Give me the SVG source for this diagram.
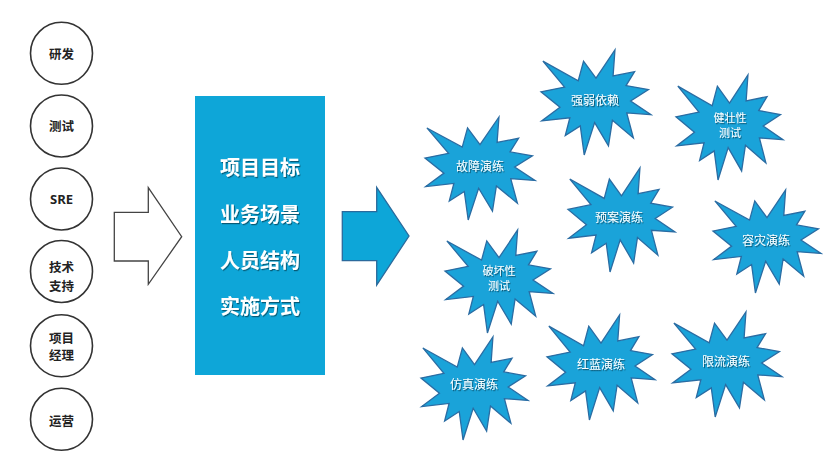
<svg xmlns="http://www.w3.org/2000/svg" xmlns:xlink="http://www.w3.org/1999/xlink" width="839" height="474" viewBox="0 0 839 474">
  <style>
    .role { fill: #ffffff; stroke: #333333; stroke-width: 1.6; }
    .roletxt { font-family: "Noto Sans CJK SC", "Liberation Sans", sans-serif; font-size: 12.5px; font-weight: bold; fill: #222222; text-anchor: middle; }
    .boxtxt { font-family: "Noto Sans CJK SC", "Liberation Sans", sans-serif; font-size: 20px; font-weight: bold; fill: #ffffff; text-anchor: middle; }
    .startxt { font-family: "Noto Sans CJK SC", "Liberation Sans", sans-serif; font-size: 12px; fill: #ffffff; text-anchor: middle; }
    .startxt2 { font-family: "Noto Sans CJK SC", "Liberation Sans", sans-serif; font-size: 11px; fill: #ffffff; text-anchor: middle; }
    .star { fill: #1AA3D9; stroke: #2A6CA3; stroke-width: 1.3; }
  </style>
  <defs>
    <filter id="shadow" x="-20%" y="-20%" width="140%" height="160%">
      <feDropShadow dx="1" dy="1.2" stdDeviation="0.6" flood-color="#000000" flood-opacity="0.45"/>
    </filter>
    <path id="seal" vector-effect="non-scaling-stroke" d="M50,26.85 L67.23,0 L65.53,24.65 L85.09,20.63 L77.32,33.87 L97.67,37.67 L81.51,48.5 L100,61.53 L77.95,59.92 L84,83.77 L64.91,66.93 L61.33,91.37 L48.76,69.14 L39.28,100 L35.72,72.35 L22.05,81.56 L26.24,64.52 L0.63,67.53 L17.23,54.51 L0,39.88 L21.42,35.26 L1.71,10.63 L33.85,29.26 L38.67,10.63 Z"/>
  </defs>
  <rect width="839" height="474" fill="#ffffff"/>

  <g id="connectors">
    <path id="arrow-in" d="M114.3,212.3 L148.3,212.3 L148.3,187.7 L181.7,236.7 L148.3,284.3 L148.3,261 L114.3,261 Z" fill="#ffffff" stroke="#444444" stroke-width="1.3" stroke-linejoin="miter"/>
    <path id="arrow-out" d="M342.3,211.7 L376.7,211.7 L376.7,187.3 L409,236 L376.7,285 L376.7,260.7 L342.3,260.7 Z" fill="#0DA6D8" stroke="#2B6A9C" stroke-width="1.3"/>
  </g>

  <g id="role-yanfa"><circle class="role" cx="61.5" cy="53.3" r="31"/><text class="roletxt" x="61.5" y="58.8">研发</text></g>
  <g id="role-ceshi"><circle class="role" cx="61.5" cy="126" r="31"/><text class="roletxt" x="61.5" y="131">测试</text></g>
  <g id="role-sre"><circle class="role" cx="61.5" cy="199" r="31"/><text class="roletxt" x="61.5" y="203.5" style="font-family:'Open Sans','Liberation Sans',sans-serif;font-size:13px">SRE</text></g>
  <g id="role-jishu"><circle class="role" cx="61.5" cy="271.5" r="31"/><text class="roletxt" x="61.5" y="272">技术</text><text class="roletxt" x="61.5" y="290.5">支持</text></g>
  <g id="role-xiangmu"><circle class="role" cx="61.5" cy="345.8" r="31"/><text class="roletxt" x="61.5" y="342.7">项目</text><text class="roletxt" x="61.5" y="360.4">经理</text></g>
  <g id="role-yunying"><circle class="role" cx="61.5" cy="419.3" r="31"/><text class="roletxt" x="61.5" y="426">运营</text></g>

  <g id="center-box">
    <rect x="195" y="96" width="130" height="279" fill="#0EA6D8"/>
    <g filter="url(#shadow)">
      <text class="boxtxt" x="260" y="174.5">项目目标</text>
      <text class="boxtxt" x="260" y="221.5">业务场景</text>
      <text class="boxtxt" x="260" y="268">人员结构</text>
      <text class="boxtxt" x="260" y="314">实施方式</text>
    </g>
  </g>

  <g id="star-guzhang"><use xlink:href="#seal" class="star" transform="translate(425,117) scale(1.10,1.03)"/><text class="startxt" filter="url(#shadow)" x="480" y="170.5">故障演练</text></g>
  <g id="star-qiangruo"><use xlink:href="#seal" class="star" transform="translate(541,50) scale(1.10,1.05)"/><text class="startxt" filter="url(#shadow)" x="595" y="104.5">强弱依赖</text></g>
  <g id="star-yuan"><use xlink:href="#seal" class="star" transform="translate(568,168) scale(1.07,1.04)"/><text class="startxt" filter="url(#shadow)" x="619" y="221.5">预案演练</text></g>
  <g id="star-jianzhuang"><use xlink:href="#seal" class="star" transform="translate(676,75) scale(1.07,1.05)"/><text class="startxt2" filter="url(#shadow)" x="730" y="121.5">健壮性</text><text class="startxt2" filter="url(#shadow)" x="730" y="136.5">测试</text></g>
  <g id="star-rongzai"><use xlink:href="#seal" class="star" transform="translate(713,190) scale(1.08,1.03)"/><text class="startxt" filter="url(#shadow)" x="766" y="244.5">容灾演练</text></g>
  <g id="star-pohuai"><use xlink:href="#seal" class="star" transform="translate(445,230) scale(1.08,1.03)"/><text class="startxt2" filter="url(#shadow)" x="499" y="275">破坏性</text><text class="startxt2" filter="url(#shadow)" x="499" y="290">测试</text></g>
  <g id="star-honglan"><use xlink:href="#seal" class="star" transform="translate(547,315) scale(1.08,1.05)"/><text class="startxt" filter="url(#shadow)" x="601" y="368.5">红蓝演练</text></g>
  <g id="star-fangzhen"><use xlink:href="#seal" class="star" transform="translate(421,337) scale(1.07,1.03)"/><text class="startxt" filter="url(#shadow)" x="474" y="388.5">仿真演练</text></g>
  <g id="star-xianliu"><use xlink:href="#seal" class="star" transform="translate(672,312) scale(1.10,1.05)"/><text class="startxt" filter="url(#shadow)" x="726" y="365.5">限流演练</text></g>
</svg>
